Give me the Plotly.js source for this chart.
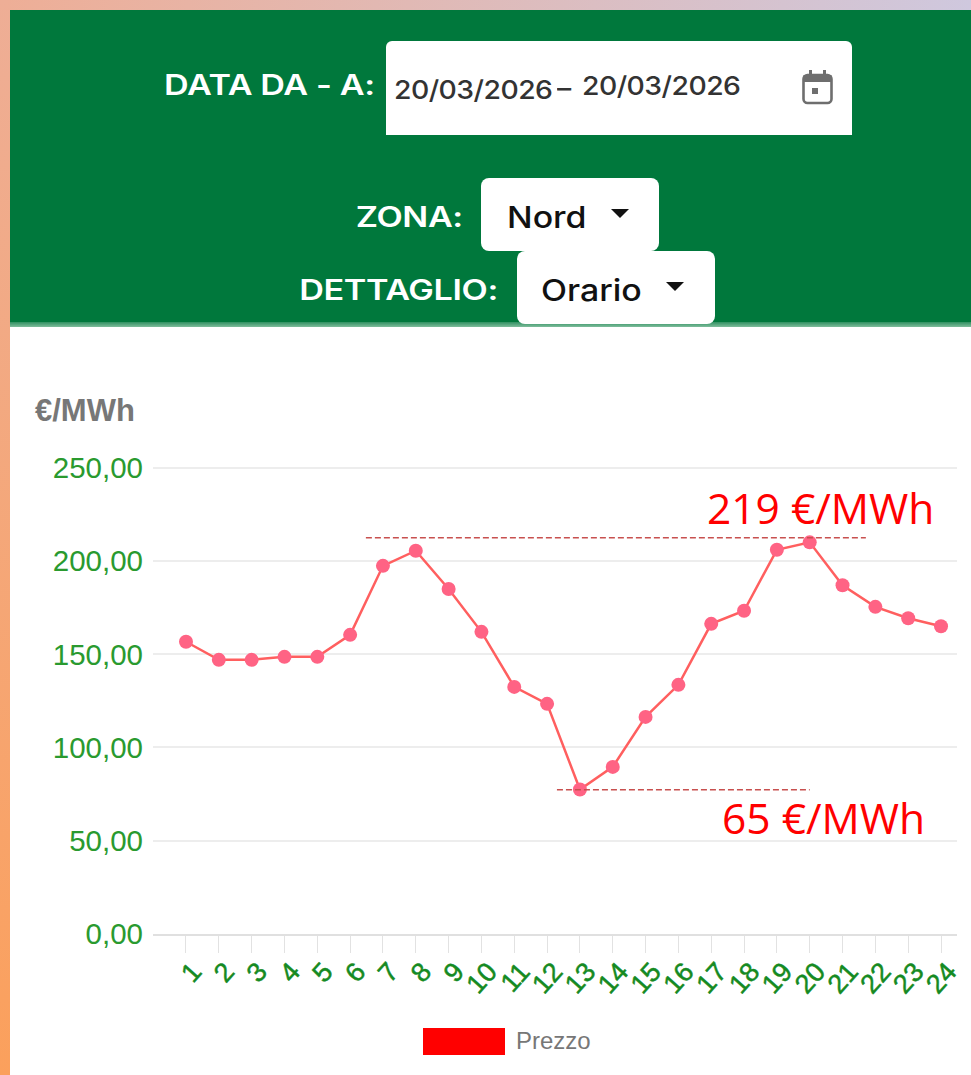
<!DOCTYPE html>
<html>
<head>
<meta charset="utf-8">
<script src="https://cdn.plot.ly/plotly-3.0.1.min.js"></script>
<style>
html,body{margin:0;padding:0;width:971px;height:1075px;overflow:hidden;background:#fff}
#top{position:absolute;left:0;top:0;width:971px;height:10px;background:linear-gradient(to right,#eeae96,#cfc8de)}
#left{position:absolute;left:0;top:0;width:10px;height:1075px;background:linear-gradient(to bottom,#eeae96,#fba05c)}
#panel{position:absolute;left:10px;top:10px;width:961px;height:312px;background:#00783c}
#rule{position:absolute;left:10px;top:322px;width:961px;height:5px;background:linear-gradient(to bottom,#2f9060,#7fbd9c)}
.lbl{position:absolute;color:#fff;font:600 28px Inter,sans-serif;white-space:nowrap;letter-spacing:-.3px;line-height:32px;text-align:right;transform:scaleX(1.22);transform-origin:right center}
.box{position:absolute;background:#fff}
.val{position:absolute;color:#111;font:500 30px Inter,sans-serif;line-height:36px;white-space:nowrap;transform:scaleX(1.13);transform-origin:left center}
.date{position:absolute;color:#333;font:500 26px Inter,sans-serif;line-height:32px;white-space:nowrap;letter-spacing:-.5px;transform:scaleX(1.09);transform-origin:left center}
.caret{position:absolute;width:0;height:0;border-left:9px solid transparent;border-right:9px solid transparent;border-top:9px solid #111}
#chart{position:absolute;left:0;top:0;width:971px;height:1075px}
#chart .xtick text{stroke:#158a22;stroke-width:.5px}
</style>
</head>
<body>
<div id="panel"></div>
<div id="rule"></div>
<div id="top"></div>
<div id="left"></div>

<div class="lbl" style="right:596px;top:69px">DATA DA - A:</div>
<div class="box" style="left:386px;top:41px;width:466px;height:94px;border-radius:6px 6px 0 0"></div>
<div class="date" style="left:394px;top:74px">20/03/2026</div>
<div class="date" style="left:557px;top:72px">–</div>
<div class="date" style="left:582px;top:70px">20/03/2026</div>
<svg style="position:absolute;left:800px;top:68px" width="36" height="38" viewBox="0 0 36 38">
  <rect x="3.5" y="7" width="28" height="28" rx="4" fill="none" stroke="#6e6e6e" stroke-width="2.6"/>
  <rect x="3.5" y="7" width="28" height="7" fill="#6e6e6e"/>
  <rect x="9" y="2" width="3" height="7" fill="#6e6e6e"/>
  <rect x="23" y="2" width="3" height="7" fill="#6e6e6e"/>
  <rect x="12" y="20" width="6" height="6" fill="#6e6e6e"/>
</svg>

<div class="lbl" style="right:508px;top:201px">ZONA:</div>
<div class="box" style="left:481px;top:178px;width:178px;height:73px;border-radius:8px"></div>
<div class="val" style="left:507px;top:199px">Nord</div>
<div class="caret" style="left:611px;top:209px"></div>

<div class="lbl" style="right:473px;top:274px">DETTAGLIO:</div>
<div class="box" style="left:517px;top:251px;width:198px;height:73px;border-radius:8px"></div>
<div class="val" style="left:541px;top:272px">Orario</div>
<div class="caret" style="left:666px;top:282px"></div>

<div id="chart"></div>

<script>
var hours = ["1","2","3","4","5","6","7","8","9","10","11","12","13","14","15","16","17","18","19","20","21","22","23","24"];
var prices = [156.7,147,147,148.6,148.6,160.4,197.4,205.5,185,162,132.5,123.4,77.5,89.6,116.4,133.6,166.3,173.3,206,210,187,175.4,169.3,165];
var yTicks = [0,50,100,150,200,250];
var yTickLabels = ["0,00","50,00","100,00","150,00","200,00","250,00"];
var seriesName = "Prezzo";
var unitLabel = "€/MWh";
var maxLabel = "219 €/MWh";
var minLabel = "65 €/MWh";
var maxLine = {from:6.48, to:21.71, y:212.4};
var minLine = {from:12.3, to:20, y:77.3};

var W=971,H=1075,L=153,R=14,T=464,B=141;
function px(x){return (x-L)/(W-L-R);}
function py(y){return (H-B-y)/(H-T-B);}
var pos = hours.map(Number);

var dashStyle = {color:"#c8504f",width:1.5,dash:"6px,3px"};
Plotly.newPlot("chart",[{
  type:"scatter",mode:"lines+markers",name:seriesName,x:pos,y:prices,
  line:{color:"#ff5f5f",width:2.5},
  marker:{color:"#ff6384",size:14},
  cliponaxis:false,hoverinfo:"x+y"
}],{
  width:W,height:H,
  paper_bgcolor:"rgba(0,0,0,0)",plot_bgcolor:"rgba(0,0,0,0)",
  margin:{l:L,r:R,t:T,b:B,pad:0},
  showlegend:false,
  font:{family:"Liberation Sans, Arial, sans-serif"},
  xaxis:{range:[-0.005,24.487],tickmode:"array",tickvals:pos,ticktext:hours,tickangle:-48,
    ticks:"outside",ticklen:17,tickwidth:1,tickcolor:"#e2e2e2",
    ticklabelshift:7,ticklabelstandoff:-8,
    tickfont:{color:"#158a22",size:27},showgrid:false,zeroline:false,
    showline:true,linecolor:"#e0e0e0",linewidth:2},
  yaxis:{range:[0,252],tickmode:"array",tickvals:yTicks,ticktext:yTickLabels,
    ticks:"",ticklabelstandoff:9,
    tickfont:{color:"#2a9a2f",size:29.5},gridcolor:"#ededed",gridwidth:2,
    zeroline:false,showline:false,automargin:false},
  shapes:[
    {type:"line",xref:"x",yref:"y",x0:maxLine.from,x1:maxLine.to,y0:maxLine.y,y1:maxLine.y,line:dashStyle},
    {type:"line",xref:"x",yref:"y",x0:minLine.from,x1:minLine.to,y0:minLine.y,y1:minLine.y,line:dashStyle},
    {type:"rect",xref:"paper",yref:"paper",x0:px(423),x1:px(505),y0:py(1028),y1:py(1055),fillcolor:"#ff0000",line:{width:0}}
  ],
  annotations:[
    {xref:"paper",yref:"paper",x:px(33),y:py(410),xanchor:"left",yanchor:"middle",showarrow:false,text:"<b>"+unitLabel+"</b>",font:{size:31,color:"#777777",family:"Liberation Sans, Arial, sans-serif"}},
    {xref:"paper",yref:"paper",x:px(936),y:py(507),xanchor:"right",yanchor:"middle",showarrow:false,text:maxLabel,font:{size:42.5,color:"#ff0000",family:"Open Sans, sans-serif"}},
    {xref:"paper",yref:"paper",x:px(927),y:py(817),xanchor:"right",yanchor:"middle",showarrow:false,text:minLabel,font:{size:42.5,color:"#ff0000",family:"Open Sans, sans-serif"}},
    {xref:"paper",yref:"paper",x:px(514),y:py(1040),xanchor:"left",yanchor:"middle",showarrow:false,text:seriesName,font:{size:24,color:"#777777",family:"Liberation Sans, Arial, sans-serif"}}
  ]
},{displayModeBar:false,staticPlot:true});
</script>
</body>
</html>
